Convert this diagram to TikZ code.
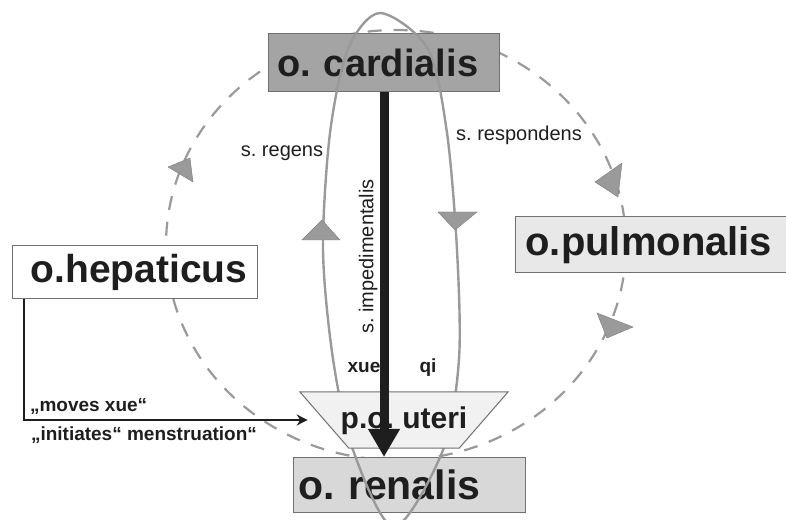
\documentclass[tikz,border=0pt]{standalone}
\usepackage{fontspec}
\setmainfont{Liberation Sans}
\usetikzlibrary{arrows.meta,shapes.geometric}
\definecolor{ink}{HTML}{1E1E1E}
\definecolor{rim}{HTML}{707070}
\definecolor{heart}{HTML}{A4A4A4}
\definecolor{pale}{HTML}{E8E8E8}
\definecolor{loop}{HTML}{9A9A9A}

\begin{document}
\begin{tikzpicture}[x=1pt,y=1pt,
  box/.style={draw=rim,line width=1pt,fill=white,minimum height=54pt,
              align=left,inner ysep=0pt,text=ink,
              font=\fontsize{39}{42}\selectfont\bfseries},
  darkbox/.style={box,fill=heart},
  palebox/.style={box,fill=pale},
  lbl/.style={text=ink,inner sep=2pt,font=\fontsize{20}{22}\selectfont},
  blbl/.style={lbl,font=\fontsize{19}{21}\selectfont\bfseries},
  tip/.style={fill=loop,draw=loop!80!black,line width=.4pt},
  ring/.style={draw=loop,line width=2.2pt,dash pattern=on 14pt off 12pt},
  oval/.style={draw=loop,line width=2.4pt},
  arr/.style={-{Stealth[length=11pt,width=11pt]},draw=ink,line width=2pt},
  bigarr/.style={-{Triangle[length=28pt,width=30pt]},draw=ink,line width=9pt}]

  \useasboundingbox (0,0) rectangle (786,519);

  % dashed ring round the organs
  \draw[ring] (396,274) ellipse [x radius=230,y radius=215];
  \fill[tip] (168,352) -- (190,361) -- (193,337) -- cycle;
  \fill[tip] (595,337) -- (622,356) -- (618,322) -- cycle;
  \fill[tip] (597,206) -- (633,192) -- (607,181) -- cycle;

  \node[darkbox,inner xsep=9pt,text width=213pt,minimum height=58pt,
        font=\fontsize{38}{40}\selectfont\bfseries] (card) at (384,456) {o.\ cardialis};
  \node[palebox,inner xsep=10pt,text width=251pt,minimum height=56pt,
        font=\fontsize{40}{42}\selectfont\bfseries] (pulm) at (651,274) {o.pulmonalis};
  \node[box,inner xsep=18pt,text width=209pt,minimum height=53pt] (hep) at (135,247) {o.hepaticus};
  \node[palebox,fill=pale!85!gray,inner xsep=5pt,text width=222pt,minimum height=55pt,
        font=\fontsize{41}{43}\selectfont\bfseries] (ren) at (409,34) {o.\ renalis};

  % xue up the left, qi down the right
  \draw[oval] plot[smooth cycle] coordinates {(380,506) (428,470) (447,386)
    (457,269) (459,160) (443,69) (394,-8) (353,69) (333,160) (323,269)
    (330,386) (348,470)};
  \fill[tip] (302,279) -- (340,279) -- (322,299) -- cycle;
  \fill[tip] (438,307) -- (477,307) -- (455,289) -- cycle;

  \node[trapezium,shape border rotate=180,trapezium angle=49,
        trapezium stretches body,draw=rim,line width=1pt,fill=pale!60,
        minimum width=208pt,inner sep=0pt,text height=37pt,text depth=19pt,
        text=ink,font=\fontsize{30}{32}\selectfont\bfseries] (ut) at (404,99)
        {\makebox[0pt]{p.o.\ uteri}};

  \node[lbl] (reg) at (282,366) {s.\ regens};
  \node[lbl] (resp) at (519,384) {s.\ respondens};
  \node[blbl] (xue) at (364,152) {xue};
  \node[blbl] (qi) at (428,151) {qi};

  \draw[bigarr] (card.south) -- (card.south |- ren.north)
    node[pos=.45,rotate=90,anchor=south,lbl] {s.\ impedimentalis};
  \draw[arr] ([xshift=12pt]hep.south west) |- ([xshift=-16pt]ut.west)
    node[pos=.5,above right,blbl,inner sep=5pt] {„moves xue“}
    node[pos=.5,below right,blbl,inner sep=6pt] {„initiates“ menstruation“};
\end{tikzpicture}
\end{document}
